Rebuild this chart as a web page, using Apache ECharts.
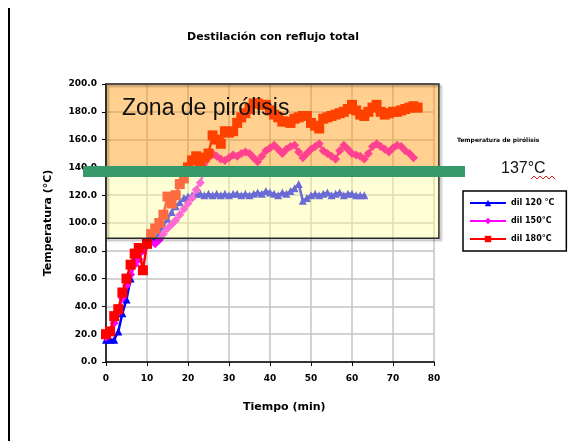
<!DOCTYPE html>
<html>
<head>
<meta charset="utf-8">
<script src="https://cdn.jsdelivr.net/npm/echarts@6/dist/echarts.min.js"></script>
<style>html,body{margin:0;padding:0;background:#fff}#c{width:579px;height:441px}</style>
</head>
<body>
<div id="c"></div>
<script>
// ---- data ----
const titleText = 'Destilación con reflujo total';
const xName = 'Tiempo (min)';
const yName = 'Temperatura (°C)';
const seriesNames = ['dil 120 °C', 'dil 150°C', 'dil 180°C'];

const tBlue = [0,1,2,3,4,5,6,7,8,9,10,11,12,13,14,15,16,17,18,19,20,21,22,23,24,25,26,27,28,29,30,31,32,33,34,35,36,37,38,39,40,41,42,43,44,45,46,47,48,49,50,51,52,53,54,55,56,57,58,59,60,61,62,63];
const vBlue = [16,16,16,22,35,45,60,75,80,84,86,87,89,93,98,103,108,112,115,118,119,120,121,121,120,121,120,121,120,121,120,121,121,120,121,120,121,122,121,123,122,121,120,122,121,123,125,128,116,118,120,121,120,121,122,120,121,122,120,121,121,120,120,120];

const tPink = [0,1,2,3,4,5,6,7,8,9,10,11,12,13,14,15,16,17,18,19,20,21,22,23,24,25,26,27,28,29,30,31,32,33,34,35,36,37,38,39,40,41,42,43,44,45,46,47,48,49,50,51,52,53,54,55,56,57,58,59,60,61,62,63,64,65,66,67,68,69,70,71,72,73,74,75];
const vPink = [18,22,28,36,46,55,63,70,74,80,84,86,85,88,92,96,99,102,106,110,114,118,124,129,138,147,150,148,146,145,147,149,148,150,151,150,147,144,148,152,154,156,153,150,153,155,156,151,147,150,153,155,157,152,150,148,146,152,156,153,150,149,148,146,150,155,157,155,153,151,154,156,155,152,150,147];

const tRed = [0,1,2,3,4,5,6,7,8,9,10,11,12,13,14,15,16,17,18,19,20,21,22,23,24,25,26,27,28,29,30,31,32,33,34,35,36,37,38,39,40,41,42,43,44,45,46,47,48,49,50,51,52,53,54,55,56,57,58,59,60,61,62,63,64,65,66,67,68,69,70,71,72,73,74,75,76];
const vRed = [20,22,33,38,50,60,70,78,82,66,85,92,96,100,106,119,114,120,128,132,140,145,148,144,147,150,163,160,157,166,165,166,172,176,179,182,186,186,185,185,181,178,176,173,173,172,175,176,177,177,172,170,168,175,176,177,178,179,180,182,185,181,178,177,180,183,185,180,178,179,180,180,181,182,183,184,183];

const xTicks = {min: 0, max: 80, interval: 10};
const yTicks = {min: 0, max: 200, interval: 20};
const zoneTop = 200, zoneSplit = 137, zoneBottom = 89, zoneRight = 81.2;
const zoneLabel = 'Zona de pirólisis';
const pyroLabel = 'Temperatura de pirólisis';
const pyroValue = '137°C';
const pyroTemp = 137;

// ---- chart ----
const chart = echarts.init(document.getElementById('c'), null, {renderer: 'canvas'});
const font = 'DejaVu Sans, sans-serif';
const font2 = 'Liberation Sans, Arial, sans-serif';
const pairs = (t, v) => t.map((x, i) => [x, v[i]]);

const option = {
  animation: false,
  backgroundColor: '#fff',
  title: {
    text: titleText, left: 268, top: 27, textAlign: 'center',
    textStyle: {fontFamily: font, fontSize: 11, fontWeight: 'bold', color: '#000'}
  },
  grid: {left: 106, right: 145, top: 84, bottom: 79, containLabel: false},
  xAxis: {
    type: 'value', min: xTicks.min, max: xTicks.max, interval: xTicks.interval,
    axisLine: {lineStyle: {color: '#000', width: 1.5}},
    axisTick: {show: true, length: 4, lineStyle: {color: '#000'}},
    axisLabel: {color: '#000', fontFamily: font, fontSize: 9, fontWeight: 'bold', margin: 12},
    splitLine: {show: true, lineStyle: {color: '#c4c4c4', width: 1.5}}
  },
  yAxis: {
    type: 'value', min: yTicks.min, max: yTicks.max, interval: yTicks.interval,
    name: yName, nameLocation: 'middle', nameGap: 52,
    nameTextStyle: {color: '#000', fontFamily: font, fontSize: 11, fontWeight: 'bold'},
    axisLine: {show: true, lineStyle: {color: '#000', width: 1.5}},
    axisTick: {show: true, length: 4, lineStyle: {color: '#000'}},
    axisLabel: {color: '#000', fontFamily: font, fontSize: 9, fontWeight: 'bold', margin: 9,
      formatter: v => v.toFixed(1)},
    splitLine: {show: true, lineStyle: {color: '#c4c4c4', width: 1.5}}
  },
  legend: {
    orient: 'vertical', left: 463, top: 191,
    itemWidth: 36, itemHeight: 8, itemGap: 10,
    padding: [8, 12, 8, 6],
    borderColor: '#000', borderWidth: 1.5,
    textStyle: {color: '#000', fontFamily: font, fontSize: 8, fontWeight: 'bold'},
    data: seriesNames
  },
  series: [
    {name: seriesNames[0], type: 'line', data: pairs(tBlue, vBlue), color: '#0000ff',
     symbol: 'triangle', symbolSize: 8, lineStyle: {width: 2.5}, z: 2},
    {name: seriesNames[1], type: 'line', data: pairs(tPink, vPink), color: '#ff00ff',
     symbol: 'diamond', symbolSize: 9, lineStyle: {width: 2.5}, z: 3},
    {name: seriesNames[2], type: 'line', data: pairs(tRed, vRed), color: '#ff0000',
     symbol: 'rect', symbolSize: 10, lineStyle: {width: 2.5}, z: 4}
  ]
};
chart.setOption(option);

const P = (x, y) => chart.convertToPixel({gridIndex: 0}, [x, y]);
const tl = P(0, zoneTop), sp = P(zoneRight, zoneSplit), br = P(zoneRight, zoneBottom);
const gy = P(0, pyroTemp)[1];

chart.setOption({
  graphic: [
    {type: 'line', z: 100, shape: {x1: 9, y1: 8, x2: 9, y2: 441}, style: {stroke: '#000', lineWidth: 2}},
    {type: 'rect', z: 100, shape: {x: tl[0], y: tl[1], width: sp[0] - tl[0], height: sp[1] - tl[1]},
     style: {fill: 'rgba(255,147,0,0.44)'}},
    {type: 'rect', z: 100, shape: {x: tl[0], y: sp[1], width: br[0] - tl[0], height: br[1] - sp[1]},
     style: {fill: 'rgba(255,255,155,0.42)'}},
    {type: 'rect', z: 101, shape: {x: tl[0], y: tl[1], width: br[0] - tl[0], height: br[1] - tl[1]},
     style: {fill: null, stroke: '#2a2a2a', lineWidth: 1.5, shadowBlur: 2, shadowOffsetX: 2, shadowOffsetY: 2, shadowColor: 'rgba(0,0,0,0.35)'}},
    {type: 'text', z: 102, left: tl[0] + 16, top: tl[1] + 13,
     style: {text: zoneLabel, font: '23px ' + font2, fill: '#111'}},
    {type: 'rect', z: 103, shape: {x: 83, y: gy - 5.5, width: 382, height: 11}, style: {fill: '#35996a'}},
    {type: 'text', z: 103, left: 457, top: 137, style: {text: pyroLabel, font: 'bold 6px ' + font, fill: '#000'}},
    {type: 'text', z: 103, left: 501, top: 161, style: {text: pyroValue, font: '16px ' + font2, fill: '#111'}},
    {type: 'polyline', z: 103, shape: {points: [[531,179],[534,176],[537,179],[540,176],[543,179],[546,176],[549,179],[552,176],[555,179]]},
     style: {stroke: '#e02020', lineWidth: 1, fill: null}},
    {type: 'text', z: 103, left: 243, top: 402, style: {text: xName, font: 'bold 11px ' + font, fill: '#000', textAlign: 'center', textVerticalAlign: 'middle'}}
  ]
});
</script>
</body>
</html>
